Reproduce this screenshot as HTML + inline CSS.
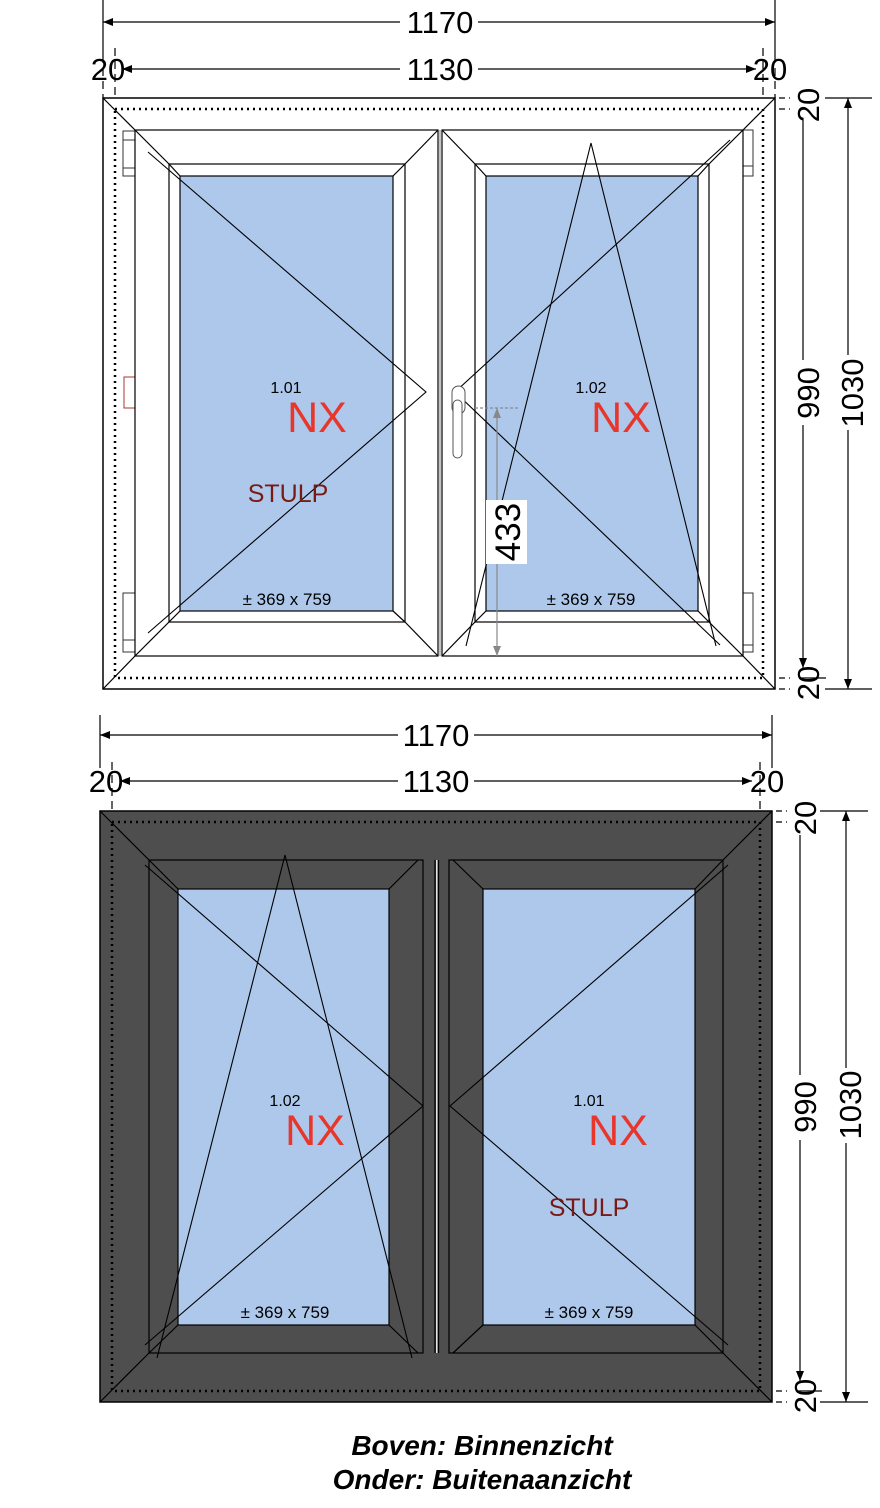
<!DOCTYPE html>
<html><head><meta charset="utf-8"><style>
html,body{margin:0;padding:0;background:#fff;}
svg{display:block;}
text{font-family:"Liberation Sans",sans-serif;}
</style></head><body>
<svg width="880" height="1508" viewBox="0 0 880 1508" xmlns="http://www.w3.org/2000/svg">
<defs>
<marker id="a" markerWidth="10" markerHeight="8" refX="10" refY="4" orient="auto-start-reverse" markerUnits="userSpaceOnUse"><path d="M0,0 L10,4 L0,8 z" fill="#000"/></marker>
<marker id="g" markerWidth="10" markerHeight="8" refX="10" refY="4" orient="auto-start-reverse" markerUnits="userSpaceOnUse"><path d="M0,0 L10,4 L0,8 z" fill="#888"/></marker>
</defs>

<!-- ================= TOP WINDOW ================= -->
<g stroke="#000" fill="none" stroke-width="1.2">
<line x1="103" y1="0" x2="103" y2="55"/><line x1="775" y1="0" x2="775" y2="55"/>
<line x1="103" y1="22" x2="400" y2="22" marker-start="url(#a)"/>
<line x1="478" y1="22" x2="775" y2="22" marker-end="url(#a)"/>
<line x1="115" y1="48" x2="115" y2="98" stroke-dasharray="8,5"/>
<line x1="763" y1="48" x2="763" y2="98" stroke-dasharray="8,5"/>
<line x1="103" y1="55" x2="103" y2="98" stroke-dasharray="8,5"/>
<line x1="775" y1="55" x2="775" y2="98" stroke-dasharray="8,5"/>
<line x1="122" y1="69" x2="400" y2="69" marker-start="url(#a)"/>
<line x1="478" y1="69" x2="756" y2="69" marker-end="url(#a)"/>
<line x1="779" y1="98" x2="790" y2="98" stroke-dasharray="6,4"/><line x1="825" y1="98" x2="872" y2="98"/>
<line x1="779" y1="109" x2="790" y2="109" stroke-dasharray="6,4"/>
<line x1="779" y1="678" x2="790" y2="678" stroke-dasharray="6,4"/><line x1="800" y1="678" x2="826" y2="678"/>
<line x1="779" y1="689" x2="790" y2="689" stroke-dasharray="6,4"/><line x1="825" y1="689" x2="872" y2="689"/>
<line x1="803" y1="118" x2="803" y2="360"/><line x1="803" y1="425" x2="803" y2="668" marker-end="url(#a)"/>
<line x1="848" y1="98" x2="848" y2="355" marker-start="url(#a)"/><line x1="848" y1="430" x2="848" y2="689" marker-end="url(#a)"/>
</g>
<g font-size="31" fill="#000">
<text x="440" y="33" text-anchor="middle">1170</text>
<text x="440" y="80" text-anchor="middle">1130</text>
<text x="108" y="80" text-anchor="middle">20</text>
<text x="770" y="80" text-anchor="middle">20</text>
<text transform="translate(819,105) rotate(-90)" text-anchor="middle">20</text>
<text transform="translate(819,683) rotate(-90)" text-anchor="middle">20</text>
<text transform="translate(819,393) rotate(-90)" text-anchor="middle">990</text>
<text transform="translate(863,393) rotate(-90)" text-anchor="middle">1030</text>
</g>

<rect x="103" y="98" width="672" height="591" fill="#fff" stroke="#000" stroke-width="1.5"/>
<rect x="115" y="109" width="648" height="569" fill="none" stroke="#000" stroke-width="2.5" stroke-dasharray="2,4"/>
<g stroke="#000" stroke-width="1.2" fill="none">
<line x1="103" y1="98" x2="135" y2="130"/><line x1="775" y1="98" x2="743" y2="130"/>
<line x1="103" y1="689" x2="135" y2="656"/><line x1="775" y1="689" x2="743" y2="656"/>
</g>
<g stroke="#333" fill="#fff" stroke-width="1">
<rect x="123" y="131" width="12" height="45"/><line x1="123" y1="140" x2="135" y2="140"/><line x1="123" y1="168" x2="135" y2="168"/>
<rect x="123" y="593" width="12" height="59"/><line x1="123" y1="640" x2="135" y2="640"/>
<rect x="124" y="377" width="11" height="31" stroke="#a33"/>
<rect x="742" y="130" width="11" height="46"/><line x1="742" y1="166" x2="753" y2="166"/>
<rect x="742" y="593" width="11" height="59"/><line x1="742" y1="645" x2="753" y2="645"/>
</g>
<g stroke="#000" stroke-width="1.2">
<rect x="135" y="130" width="303" height="526" fill="#fff"/>
<rect x="169" y="164" width="236" height="458" fill="#fff"/>
<rect x="180" y="176" width="213" height="435" fill="#aec8eb"/>
<line x1="135" y1="130" x2="169" y2="164"/><line x1="438" y1="130" x2="405" y2="164"/>
<line x1="135" y1="656" x2="169" y2="622"/><line x1="438" y1="656" x2="405" y2="622"/>
<line x1="169" y1="164" x2="180" y2="176"/><line x1="405" y1="164" x2="393" y2="176"/>
<line x1="169" y1="622" x2="180" y2="611"/><line x1="405" y1="622" x2="393" y2="611"/>
<rect x="442" y="130" width="301" height="526" fill="#fff"/>
<rect x="475" y="164" width="234" height="458" fill="#fff"/>
<rect x="486" y="176" width="212" height="435" fill="#aec8eb"/>
<line x1="442" y1="130" x2="475" y2="164"/><line x1="743" y1="130" x2="709" y2="164"/>
<line x1="442" y1="656" x2="475" y2="622"/><line x1="743" y1="656" x2="709" y2="622"/>
<line x1="475" y1="164" x2="486" y2="176"/><line x1="709" y1="164" x2="698" y2="176"/>
<line x1="475" y1="622" x2="486" y2="611"/><line x1="709" y1="622" x2="698" y2="611"/>
</g>
<line x1="440" y1="130" x2="440" y2="656" stroke="#666" stroke-width="0.8"/>
<g stroke="#000" stroke-width="1.1" fill="none">
<polyline points="148,152 426,392 148,633"/>
<polyline points="730,140 455,392 720,645"/>
<polyline points="466,646 591,143 716,646"/>
</g>
<rect x="452" y="386" width="13" height="28" rx="6.5" fill="#fff" stroke="#555" stroke-width="1"/>
<rect x="453" y="400" width="9" height="58" rx="4.5" fill="#fff" stroke="#555" stroke-width="1"/>
<g stroke="#889" stroke-width="1.2">
<line x1="475" y1="408" x2="520" y2="408" stroke-dasharray="3,2"/>
<line x1="497" y1="408" x2="497" y2="656" marker-start="url(#g)" marker-end="url(#g)" stroke="#888"/>
</g>
<rect x="486" y="500" width="41" height="64" fill="#fff"/>
<text transform="translate(520,532) rotate(-90)" text-anchor="middle" font-size="35">433</text>
<g text-anchor="middle">
<text x="286" y="393" font-size="16">1.01</text>
<text x="317" y="432" font-size="43" fill="#e8362a">NX</text>
<text x="288" y="502" font-size="25" fill="#7a1a14">STULP</text>
<text x="287" y="605" font-size="17">± 369 x 759</text>
<text x="591" y="393" font-size="16">1.02</text>
<text x="621" y="432" font-size="43" fill="#e8362a">NX</text>
<text x="591" y="605" font-size="17">± 369 x 759</text>
</g>

<!-- ================= BOTTOM WINDOW ================= -->
<g stroke="#000" fill="none" stroke-width="1.2">
<line x1="100" y1="715" x2="100" y2="768"/><line x1="772" y1="715" x2="772" y2="768"/>
<line x1="100" y1="735" x2="398" y2="735" marker-start="url(#a)"/>
<line x1="474" y1="735" x2="772" y2="735" marker-end="url(#a)"/>
<line x1="112" y1="762" x2="112" y2="811" stroke-dasharray="8,5"/>
<line x1="760" y1="762" x2="760" y2="811" stroke-dasharray="8,5"/>
<line x1="120" y1="781" x2="398" y2="781" marker-start="url(#a)"/>
<line x1="474" y1="781" x2="752" y2="781" marker-end="url(#a)"/>
<line x1="776" y1="811" x2="787" y2="811" stroke-dasharray="6,4"/><line x1="820" y1="811" x2="868" y2="811"/>
<line x1="776" y1="822" x2="787" y2="822" stroke-dasharray="6,4"/>
<line x1="776" y1="1391" x2="787" y2="1391" stroke-dasharray="6,4"/><line x1="797" y1="1391" x2="822" y2="1391"/>
<line x1="776" y1="1402" x2="787" y2="1402" stroke-dasharray="6,4"/><line x1="820" y1="1402" x2="868" y2="1402"/>
<line x1="800" y1="835" x2="800" y2="1075"/><line x1="800" y1="1140" x2="800" y2="1381" marker-end="url(#a)"/>
<line x1="846" y1="811" x2="846" y2="1068" marker-start="url(#a)"/><line x1="846" y1="1143" x2="846" y2="1402" marker-end="url(#a)"/>
</g>
<g font-size="31" fill="#000">
<text x="436" y="746" text-anchor="middle">1170</text>
<text x="436" y="792" text-anchor="middle">1130</text>
<text x="106" y="792" text-anchor="middle">20</text>
<text x="767" y="792" text-anchor="middle">20</text>
<text transform="translate(816,818) rotate(-90)" text-anchor="middle">20</text>
<text transform="translate(816,1396) rotate(-90)" text-anchor="middle">20</text>
<text transform="translate(816,1107) rotate(-90)" text-anchor="middle">990</text>
<text transform="translate(861,1105) rotate(-90)" text-anchor="middle">1030</text>
</g>
<rect x="100" y="811" width="672" height="591" fill="#4e4e4e" stroke="#000" stroke-width="1.5"/>
<rect x="112" y="822" width="648" height="569" fill="none" stroke="#000" stroke-width="2.5" stroke-dasharray="2,4"/>
<g stroke="#000" stroke-width="1.2" fill="none">
<line x1="100" y1="811" x2="149" y2="860"/><line x1="772" y1="811" x2="723" y2="860"/>
<line x1="100" y1="1402" x2="149" y2="1353"/><line x1="772" y1="1402" x2="723" y2="1353"/>
</g>
<g stroke="#000" stroke-width="1.2">
<rect x="149" y="860" width="274" height="493" fill="#4e4e4e"/>
<rect x="178" y="889" width="211" height="436" fill="#aec8eb"/>
<line x1="149" y1="860" x2="178" y2="889"/><line x1="418" y1="860" x2="389" y2="889"/>
<line x1="149" y1="1353" x2="178" y2="1325"/><line x1="418" y1="1353" x2="389" y2="1325"/>
<rect x="449" y="860" width="274" height="493" fill="#4e4e4e"/>
<rect x="483" y="889" width="212" height="436" fill="#aec8eb"/>
<line x1="453" y1="860" x2="483" y2="889"/><line x1="723" y1="860" x2="695" y2="889"/>
<line x1="453" y1="1353" x2="483" y2="1325"/><line x1="723" y1="1353" x2="695" y2="1325"/>
<line x1="435" y1="860" x2="435" y2="1353"/>
<line x1="438.5" y1="860" x2="438.5" y2="1353"/>
</g>
<line x1="436.8" y1="860" x2="436.8" y2="1353" stroke="#fff" stroke-width="1.3"/>
<g stroke="#000" stroke-width="1.1" fill="none">
<polyline points="145,865 423,1106 145,1345"/>
<polyline points="728,865 450,1106 728,1345"/>
<polyline points="157,1358 285,855 412,1358"/>
</g>
<g text-anchor="middle">
<text x="285" y="1106" font-size="16">1.02</text>
<text x="315" y="1145" font-size="43" fill="#e8362a">NX</text>
<text x="285" y="1318" font-size="17">± 369 x 759</text>
<text x="589" y="1106" font-size="16">1.01</text>
<text x="618" y="1145" font-size="43" fill="#e8362a">NX</text>
<text x="589" y="1216" font-size="25" fill="#7a1a14">STULP</text>
<text x="589" y="1318" font-size="17">± 369 x 759</text>
</g>

<g text-anchor="middle" font-size="28" font-weight="bold" font-style="italic">
<text x="482" y="1455">Boven: Binnenzicht</text>
<text x="482" y="1489">Onder: Buitenaanzicht</text>
</g>
</svg>
</body></html>
